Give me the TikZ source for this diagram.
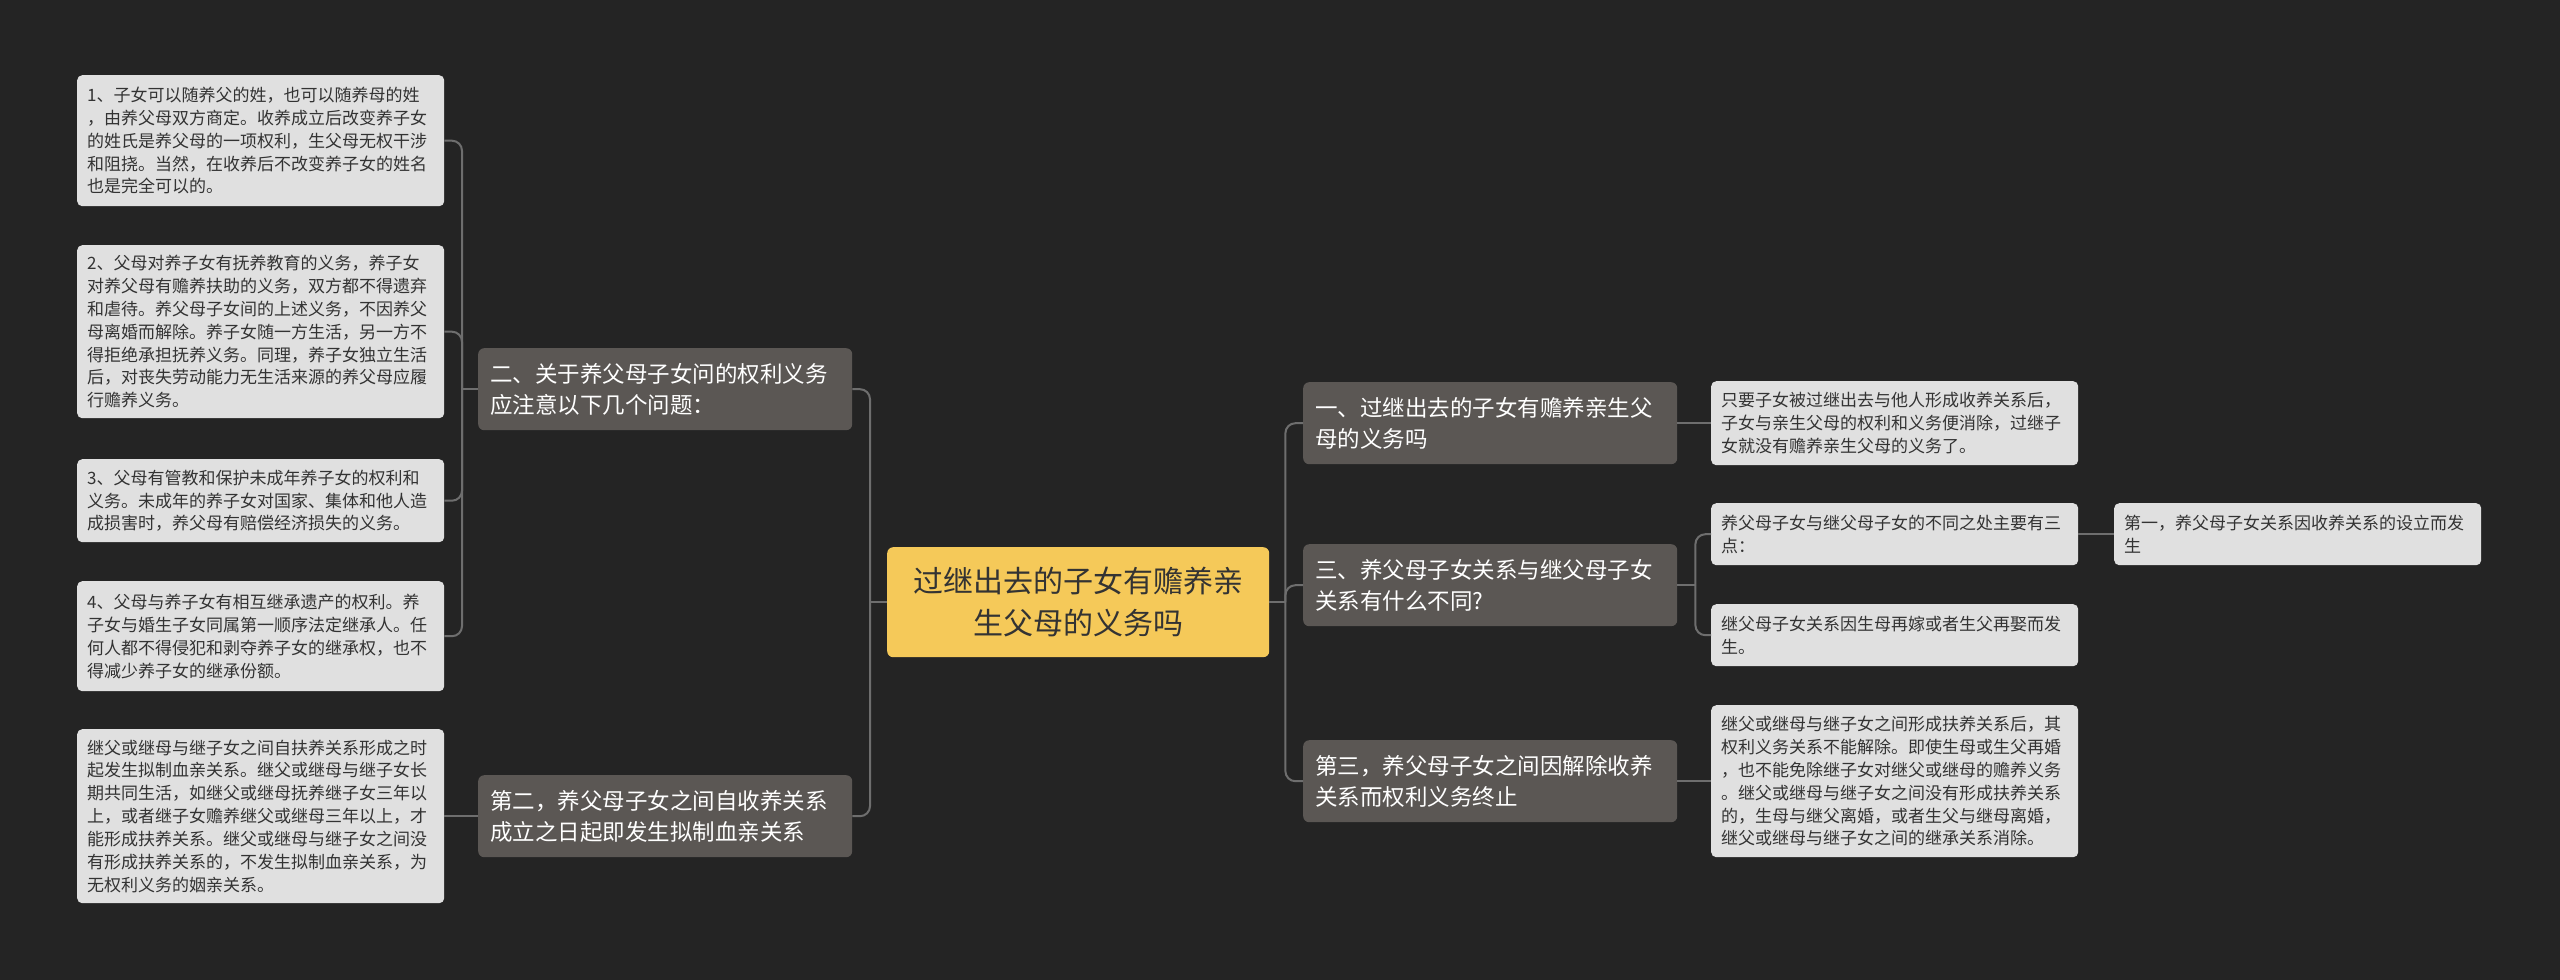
\documentclass[tikz,border=0pt]{standalone}
\usepackage{fontspec}
\setmainfont{Noto Sans CJK SC}

\definecolor{bgdark}{HTML}{242424}
\definecolor{leafgray}{HTML}{E0E0E0}
\definecolor{leafink}{HTML}{333333}
\definecolor{branchgray}{HTML}{5B5754}
\definecolor{rootyellow}{HTML}{F5C959}
\definecolor{linkgray}{HTML}{6E6E6E}

\tikzset{
  leaf/.style={fill=leafgray, text=leafink, rounded corners=5pt, anchor=north west,
    text width=347pt, inner xsep=10pt, inner ysep=0pt, align=left,
    font=\fontsize{17}{22.9}\selectfont},
  branch/.style={fill=branchgray, text=white, rounded corners=6pt, anchor=north west,
    text width=350pt, inner xsep=12pt, inner ysep=0pt, minimum height=82pt, align=left,
    font=\fontsize{22.5}{31}\selectfont},
  root/.style={fill=rootyellow, text=leafink, rounded corners=6pt, anchor=north west,
    minimum width=382pt, minimum height=110pt, align=center,
    font=\fontsize{30}{42}\selectfont},
  link/.style={draw=linkgray, line width=2pt, rounded corners=10pt}
}

\begin{document}
\begin{tikzpicture}[x=1pt,y=-1pt]
  \useasboundingbox[fill=bgdark] (0,0) rectangle (2560,980);

  % centre
  \node[root] (root) at (887,547) {过继出去的子女有赡养亲\\生父母的义务吗};

  % left side
  \node[branch] (b2) at (478,348) {二、关于养父母子女问的权利义务\\应注意以下几个问题：};
  \node[branch] (b5) at (478,775) {第二，养父母子女之间自收养关系\\成立之日起即发生拟制血亲关系};

  \node[leaf, minimum height=131pt] (l1) at (77,75) {1、子女可以随养父的姓，也可以随养母的姓\\，由养父母双方商定。收养成立后改变养子女\\的姓氏是养父母的一项权利，生父母无权干涉\\和阻挠。当然，在收养后不改变养子女的姓名\\也是完全可以的。};
  \node[leaf, minimum height=173pt] (l2) at (77,245) {2、父母对养子女有抚养教育的义务，养子女\\对养父母有赡养扶助的义务，双方都不得遗弃\\和虐待。养父母子女间的上述义务，不因养父\\母离婚而解除。养子女随一方生活，另一方不\\得拒绝承担抚养义务。同理，养子女独立生活\\后，对丧失劳动能力无生活来源的养父母应履\\行赡养义务。};
  \node[leaf, minimum height=83pt] (l3) at (77,459) {3、父母有管教和保护未成年养子女的权利和\\义务。未成年的养子女对国家、集体和他人造\\成损害时，养父母有赔偿经济损失的义务。};
  \node[leaf, minimum height=110pt] (l4) at (77,581) {4、父母与养子女有相互继承遗产的权利。养\\子女与婚生子女同属第一顺序法定继承人。任\\何人都不得侵犯和剥夺养子女的继承权，也不\\得减少养子女的继承份额。};
  \node[leaf, minimum height=174pt] (l5) at (77,729) {继父或继母与继子女之间自扶养关系形成之时\\起发生拟制血亲关系。继父或继母与继子女长\\期共同生活，如继父或继母抚养继子女三年以\\上，或者继子女赡养继父或继母三年以上，才\\能形成扶养关系。继父或继母与继子女之间没\\有形成扶养关系的，不发生拟制血亲关系，为\\无权利义务的姻亲关系。};

  % right side
  \node[branch] (r1) at (1303,382) {一、过继出去的子女有赡养亲生父\\母的义务吗};
  \node[branch] (r2) at (1303,544) {三、养父母子女关系与继父母子女\\关系有什么不同?};
  \node[branch] (r3) at (1303,740) {第三，养父母子女之间因解除收养\\关系而权利义务终止};

  \node[leaf, minimum height=84pt] (rl1) at (1711,381) {只要子女被过继出去与他人形成收养关系后，\\子女与亲生父母的权利和义务便消除，过继子\\女就没有赡养亲生父母的义务了。};
  \node[leaf, minimum height=62pt] (rl2a) at (1711,503) {养父母子女与继父母子女的不同之处主要有三\\点：};
  \node[leaf, minimum height=62pt] (rl2b) at (1711,604) {继父母子女关系因生母再嫁或者生父再娶而发\\生。};
  \node[leaf, minimum height=152pt] (rl3) at (1711,705) {继父或继母与继子女之间形成扶养关系后，其\\权利义务关系不能解除。即使生母或生父再婚\\，也不能免除继子女对继父或继母的赡养义务\\。继父或继母与继子女之间没有形成扶养关系\\的，生母与继父离婚，或者生父与继母离婚，\\继父或继母与继子女之间的继承关系消除。};
  \node[leaf, minimum height=62pt] (rr1) at (2114,503) {第一，养父母子女关系因收养关系的设立而发\\生};

  % connectors
  \draw[link] (root.west) -- ++(-17,0) coordinate (lj);
  \foreach \b in {b2,b5}
    \draw[link] (lj) |- (\b.east);
  \draw[link] (b2.west) -- ++(-16,0) coordinate (lj2);
  \foreach \n in {1,...,4}
    \draw[link] (lj2) |- (l\n.east);
  \draw[link] (b5.west) -- (l5.east);

  \draw[link] (root.east) -- ++(16,0) coordinate (rj);
  \foreach \b in {r1,r2,r3}
    \draw[link] (rj) |- (\b.west);
  \draw[link] (r1.east) -- (rl1.west);
  \draw[link] (r2.east) -- ++(18,0) coordinate (rj2);
  \foreach \n in {rl2a,rl2b}
    \draw[link] (rj2) |- (\n.west);
  \draw[link] (r3.east) -- (rl3.west);
  \draw[link] (rl2a.east) -- (rr1.west);
\end{tikzpicture}
\end{document}
